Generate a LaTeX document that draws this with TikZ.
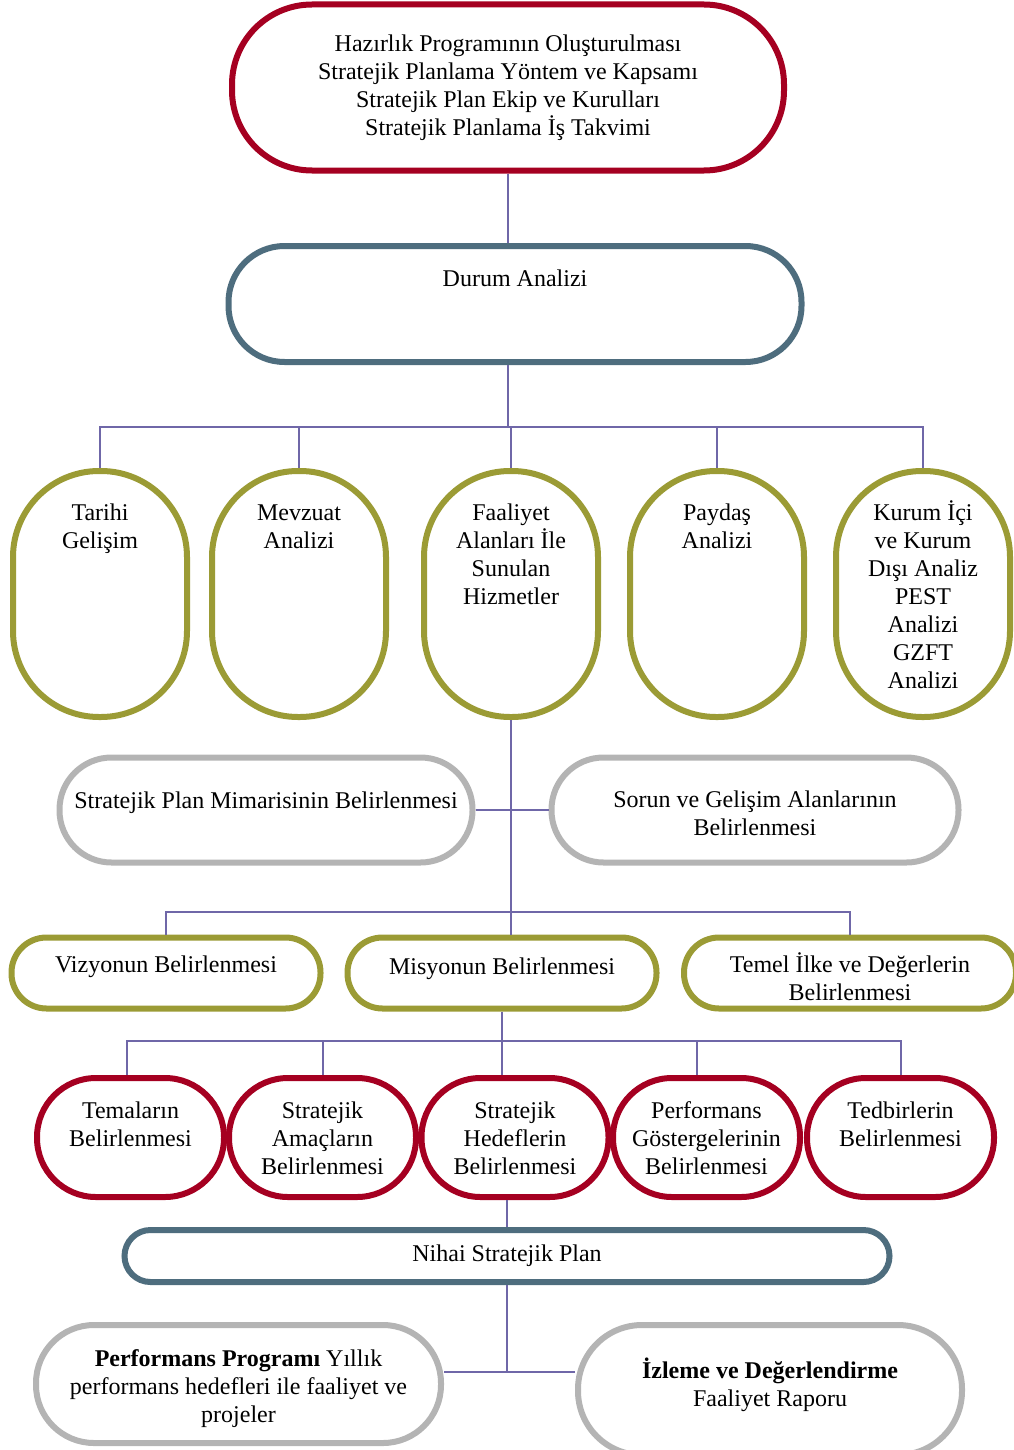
\documentclass[tikz,border=0pt]{standalone}
\usepackage{fontspec}
\setmainfont{Liberation Serif}
\usepackage{tikz}
\usetikzlibrary{positioning}
\usepackage{xcolor}
\definecolor{planred}{HTML}{A50021}
\definecolor{planblue}{HTML}{4E6D7E}
\definecolor{planolive}{HTML}{9B9B35}
\definecolor{plangrey}{HTML}{B4B4B4}
\definecolor{planlink}{HTML}{6F67A8}

\begin{document}
\begin{tikzpicture}[x=0.5pt, y=-0.5pt, font=\fontsize{12}{14}\selectfont,
  pill/.style={draw, line width=3pt, fill=white, align=center},
  red pill/.style={pill, draw=planred},
  blue pill/.style={pill, draw=planblue},
  olive pill/.style={pill, draw=planolive},
  grey pill/.style={pill, draw=plangrey},
  inside/.style={align=center, inner sep=0pt, below=#1},
  conn/.style={draw=planlink, line width=1pt}]
  \useasboundingbox (0,0) rectangle (1013,1450);

  % hazirlik ve durum analizi
  \node[red pill, minimum width=276pt, minimum height=83pt, rounded corners=40pt] (hazirlik) at (508,87.5)
    {Hazırlık Programının Oluşturulması\\Stratejik Planlama Yöntem ve Kapsamı\\Stratejik Plan Ekip ve Kurulları\\Stratejik Planlama İş Takvimi};
  \node[blue pill, minimum width=286.5pt, minimum height=58pt, rounded corners=28pt,
    label={[inside=13.3pt]north:Durum Analizi}] (durum) at (515,304) {};

  % analizler
  \node[olive pill, minimum width=87pt, minimum height=123pt, rounded corners=43pt,
    label={[inside=17.8pt]north:Tarihi\\Gelişim}] (tarihi) at (100,594) {};
  \node[olive pill, minimum width=87pt, minimum height=123pt, rounded corners=43pt,
    label={[inside=18.2pt]north:Mevzuat\\Analizi}] (mevzuat) at (299,594) {};
  \node[olive pill, minimum width=87pt, minimum height=123pt, rounded corners=43pt,
    label={[inside=17.8pt]north:Faaliyet\\Alanları İle\\Sunulan\\Hizmetler}] (faaliyet) at (511,594) {};
  \node[olive pill, minimum width=87pt, minimum height=123pt, rounded corners=43pt,
    label={[inside=17.8pt]north:Paydaş\\Analizi}] (paydas) at (717,594) {};
  \node[olive pill, minimum width=87pt, minimum height=123pt, rounded corners=43pt,
    label={[inside=16.2pt]north:Kurum İçi\\ve Kurum\\Dışı Analiz\\PEST\\Analizi\\GZFT\\Analizi}] (kurum) at (923,594) {};

  \node[grey pill, minimum width=206.5pt, minimum height=52.5pt, rounded corners=26pt,
    label={[inside=18.3pt]north:Stratejik Plan Mimarisinin Belirlenmesi}] (mimari) at (266,810) {};
  \node[grey pill, minimum width=203.5pt, minimum height=52.5pt, rounded corners=26pt,
    label={[inside=18pt]north:Sorun ve Gelişim Alanlarının\\Belirlenmesi}] (sorun) at (755,810) {};

  % vizyon, misyon, degerler
  \node[olive pill, minimum width=154.5pt, minimum height=35.5pt, rounded corners=17.5pt,
    label={[inside=10.3pt]north:Vizyonun Belirlenmesi}] (vizyon) at (166,973) {};
  \node[olive pill, minimum width=154.5pt, minimum height=35.5pt, rounded corners=17.5pt,
    label={[inside=11.3pt]north:Misyonun Belirlenmesi}] (misyon) at (502,973) {};
  \node[olive pill, minimum width=166pt, minimum height=35.5pt, rounded corners=17.5pt,
    label={[inside=8.8pt]north:Temel İlke ve Değerlerin\\Belirlenmesi}] (temel) at (850,973) {};

  % amaclar ve hedefler
  \node[red pill, minimum width=93.5pt, minimum height=59.5pt, rounded corners=29.5pt,
    label={[inside=13.3pt]north:Temaların\\Belirlenmesi}] (temalar) at (130.5,1137.5) {};
  \node[red pill, minimum width=93.5pt, minimum height=59.5pt, rounded corners=29.5pt,
    label={[inside=13.3pt]north:Stratejik\\Amaçların\\Belirlenmesi}] (amac) at (322.5,1137.5) {};
  \node[red pill, minimum width=93.5pt, minimum height=59.5pt, rounded corners=29.5pt,
    label={[inside=13.3pt]north:Stratejik\\Hedeflerin\\Belirlenmesi}] (hedef) at (515,1137.5) {};
  \node[red pill, minimum width=93.5pt, minimum height=59.5pt, rounded corners=29.5pt,
    label={[inside=13.3pt]north:Performans\\Göstergelerinin\\Belirlenmesi}] (gosterge) at (706.5,1137.5) {};
  \node[red pill, minimum width=93.5pt, minimum height=59.5pt, rounded corners=29.5pt,
    label={[inside=13.3pt]north:Tedbirlerin\\Belirlenmesi}] (tedbir) at (900.5,1137.5) {};

  % nihai plan
  \node[blue pill, minimum width=382.5pt, minimum height=26pt, rounded corners=13pt] (nihai) at (507,1256)
    {Nihai Stratejik Plan};
  \node[grey pill, minimum width=202.5pt, minimum height=59pt, rounded corners=29pt,
    label={[inside=13.8pt]north:\textbf{Performans Programı} Yıllık\\performans hedefleri ile faaliyet ve\\projeler}] (perfprog) at (238.5,1384) {};
  \node[grey pill, minimum width=192pt, minimum height=65pt, rounded corners=32pt,
    label={[inside=17.8pt]north:\textbf{İzleme ve Değerlendirme}\\Faaliyet Raporu}] (izleme) at (770,1390) {};

  % baglantilar
  \coordinate (durumbus) at (508,427);
  \coordinate (faalbus) at (511,912);
  \coordinate (misbus) at (502,1041);
  \coordinate (nihaibus) at (507,1372);

  \draw[conn] (hazirlik) -- (hazirlik |- durum.north);
  \draw[conn] (durumbus |- durum.south) -- (durumbus);
  \draw[conn] (durumbus) -| (tarihi.north);
  \draw[conn] (durumbus) -| (mevzuat.north);
  \draw[conn] (durumbus) -| (faaliyet.north);
  \draw[conn] (durumbus) -| (paydas.north);
  \draw[conn] (durumbus) -| (kurum.north);

  \draw[conn] (faaliyet.south) -- (faalbus);
  \draw[conn] (mimari.east) -- (sorun.west);
  \draw[conn] (faalbus) -| (vizyon.north);
  \draw[conn] (faalbus) -| (temel.north);
  \draw[conn] (faalbus) -- (faalbus |- misyon.north);

  \draw[conn] (misyon.south) -- (misyon.south |- hedef.north);
  \draw[conn] (misbus) -| ([xshift=-2pt]temalar.north);
  \draw[conn] (misbus) -| (amac.north);
  \draw[conn] (misbus) -| ([xshift=-5pt]gosterge.north);
  \draw[conn] (misbus) -| (tedbir.north);

  \draw[conn] (nihai.north |- hedef.south) -- (nihai.north);
  \draw[conn] (nihai.south) -- (nihaibus);
  \draw[conn] (nihaibus -| perfprog.east) -- (nihaibus -| izleme.west);
\end{tikzpicture}
\end{document}
